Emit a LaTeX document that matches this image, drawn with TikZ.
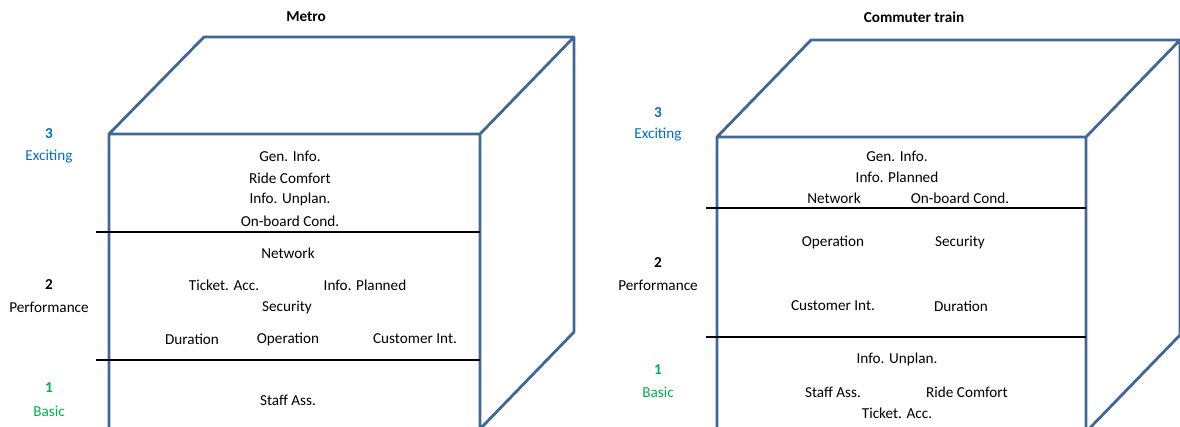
\documentclass[tikz,border=0pt]{standalone}
\usepackage{fontspec}
\setmainfont{Carlito}
\definecolor{cubeblue}{RGB}{65,103,153}
\definecolor{lvlblue}{RGB}{0,112,192}
\definecolor{lvlgreen}{RGB}{0,176,80}
\begin{document}
\begin{tikzpicture}[x=1pt,y=-1pt,
  cube/.style={draw=cubeblue,line width=2.8pt,line join=round},
  sep/.style={draw=black,line width=2.6pt},
  lbl/.style={font=\fontsize{15.2}{17}\selectfont,inner sep=0pt,anchor=center},
  ttl/.style={font=\fontsize{15.2}{17}\selectfont\bfseries,inner sep=0pt},
  numb/.style={font=\fontsize{15.2}{17}\selectfont\bfseries,inner sep=0pt},
]
\useasboundingbox (0,0) rectangle (1180,427);
\clip (0,0) rectangle (1180,427);
% ---------- Metro ----------
\node[ttl] (mtitle) at (306,17) {Metro};
\draw[cube] (109,429) -- (109,134) -- (204,37) -- (574,37) -- (574,332) -- (480,429)
            (109,134) -- (480,134) -- (574,37) (480,134) -- (480,429);
\coordinate (m1a) at (96,232); \coordinate (m1b) at (480,232);
\coordinate (m2a) at (96,360); \coordinate (m2b) at (480,360);
\draw[sep] (m1a) -- (m1b);
\draw[sep] (m2a) -- (m2b);
\node[lbl] (m3) at (290,156) {Gen. Info.};
\node[lbl] (m4) at (290,178) {Ride Comfort};
\node[lbl] (m5) at (290,199) {Info. Unplan.};
\node[lbl] (m6) at (290,221) {On-board Cond.};
\node[lbl] (m7) at (288,253) {Network};
\node[lbl] (m8) at (224,285) {Ticket. Acc.};
\node[lbl] (m9) at (365,285) {Info. Planned};
\node[lbl] (m10) at (287,307) {Security};
\node[lbl] (m11) at (192,339) {Duration};
\node[lbl] (m12) at (288,339) {Operation};
\node[lbl] (m13) at (415,339) {Customer Int.};
\node[lbl] (m14) at (288,400) {Staff Ass.};
\node[numb,text=lvlblue] (mL3n) at (49,134) {3};
\node[lbl,text=lvlblue] (mL3) at (49,157) {Exciting};
\node[numb] (mL2n) at (49,285) {2};
\node[lbl] (mL2) at (49,307) {Performance};
\node[numb,text=lvlgreen] (mL1n) at (49,388) {1};
\node[lbl,text=lvlgreen] (mL1) at (49,411) {Basic};
% ---------- Commuter train ----------
\node[ttl] (ctitle) at (914,17) {Commuter train};
\draw[cube] (717,432) -- (717,137) -- (811,40) -- (1180,40) -- (1180,335) -- (1086,432)
            (717,137) -- (1086,137) -- (1180,40) (1086,137) -- (1086,432);
\coordinate (c1a) at (706,208); \coordinate (c1b) at (1086,208);
\coordinate (c2a) at (706,337); \coordinate (c2b) at (1086,337);
\draw[sep] (c1a) -- (c1b);
\draw[sep] (c2a) -- (c2b);
\node[lbl] (c3) at (897,156) {Gen. Info.};
\node[lbl] (c4) at (897,177) {Info. Planned};
\node[lbl] (c5) at (834,198) {Network};
\node[lbl] (c6) at (960,198) {On-board Cond.};
\node[lbl] (c7) at (833,242) {Operation};
\node[lbl] (c8) at (960,242) {Security};
\node[lbl] (c9) at (833,306) {Customer Int.};
\node[lbl] (c10) at (961,306) {Duration};
\node[lbl] (c11) at (897,359) {Info. Unplan.};
\node[lbl] (c12) at (833,392) {Staff Ass.};
\node[lbl] (c13) at (967,392) {Ride Comfort};
\node[lbl] (c14) at (897,413) {Ticket. Acc.};
\node[numb,text=lvlblue] (cL3n) at (658,113) {3};
\node[lbl,text=lvlblue] (cL3) at (658,135) {Exciting};
\node[numb] (cL2n) at (658,263) {2};
\node[lbl] (cL2) at (658,285) {Performance};
\node[numb,text=lvlgreen] (cL1n) at (658,370) {1};
\node[lbl,text=lvlgreen] (cL1) at (658,392) {Basic};
\end{tikzpicture}
\end{document}
